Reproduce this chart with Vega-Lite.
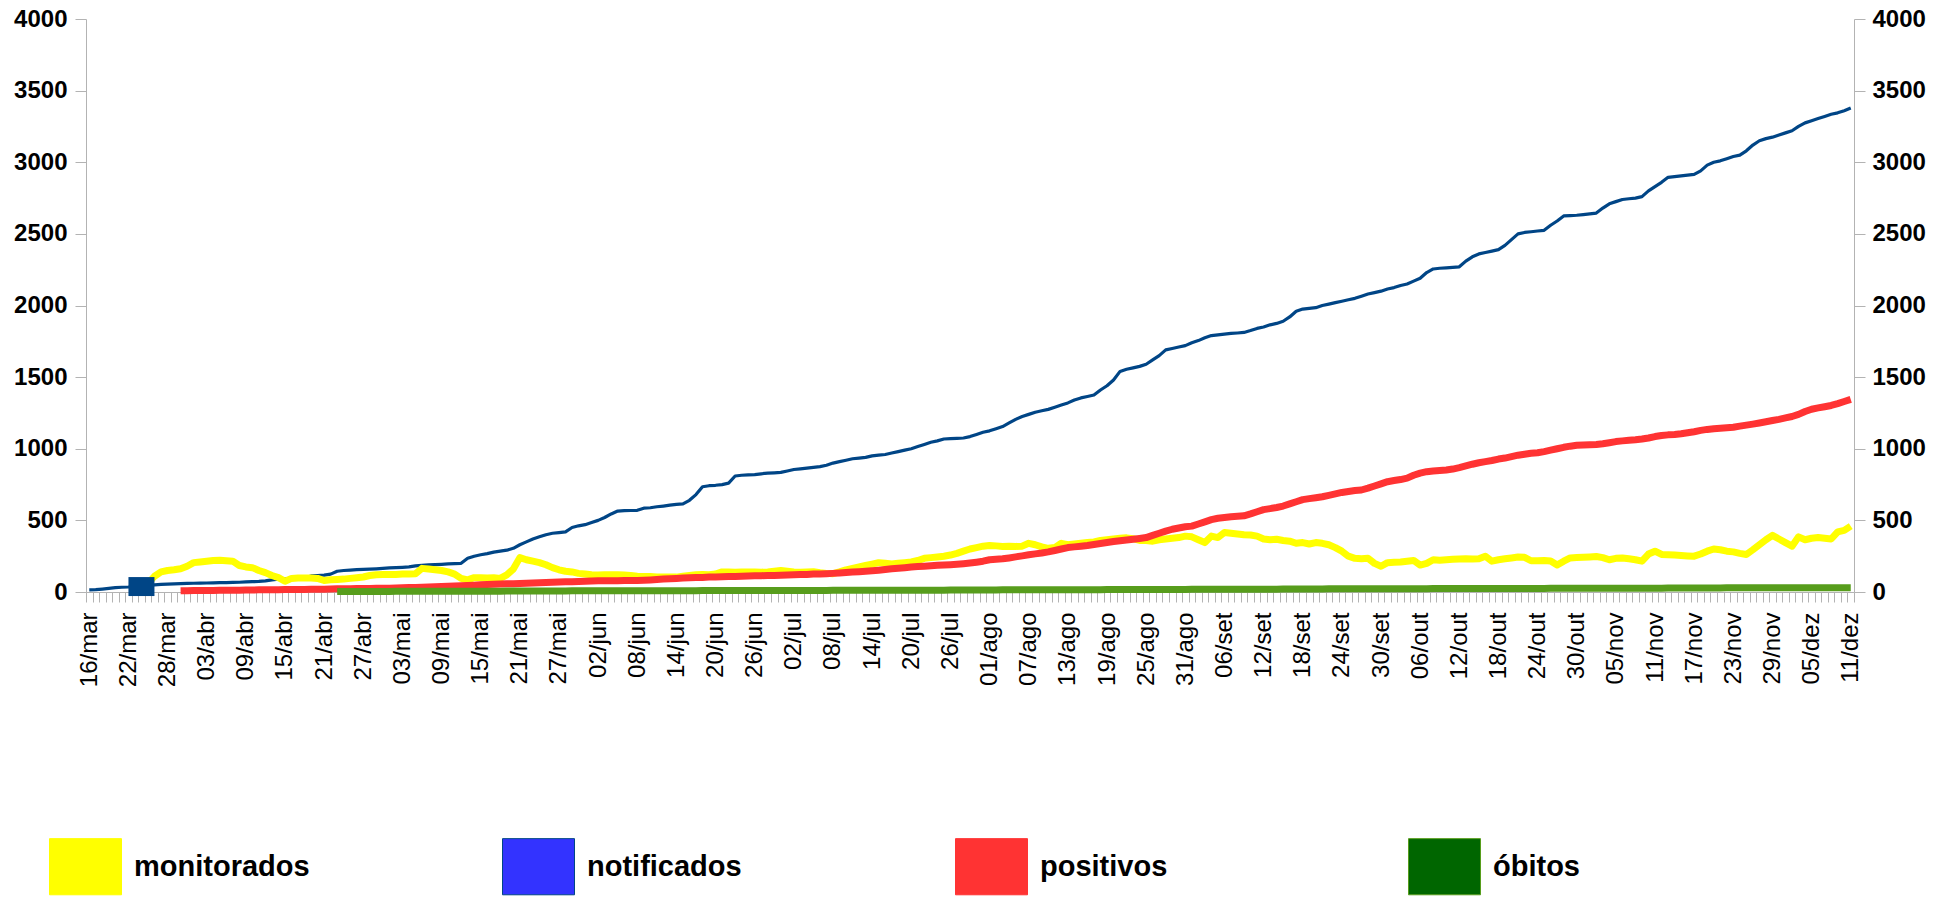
{
  "$schema": "https://vega.github.io/schema/vega-lite/v6.json",
  "width": 1768,
  "height": 573,
  "autosize": {"type": "none"},
  "padding": {"left": 86, "top": 19, "right": 97, "bottom": 308},
  "background": "white",
  "config": {"view": {"stroke": null}, "font": "Liberation Sans"},
  "data": {"values": [
{"d":"16/mar","n":15},{"d":"17/mar","n":16},{"d":"18/mar","n":20},{"d":"19/mar","n":25},{"d":"20/mar","n":30},{"d":"21/mar","n":33},{"d":"22/mar","n":35},{"d":"23/mar","n":40},{"d":"24/mar","n":45,"sq":38},
{"d":"25/mar","n":48,"m":60},{"d":"26/mar","n":50,"m":110},{"d":"27/mar","n":53,"m":140},{"d":"28/mar","n":55,"m":150},{"d":"29/mar","n":57,"m":155},
{"d":"30/mar","n":58,"m":162,"p":8},{"d":"31/mar","n":60,"m":180,"p":9},
{"d":"01/abr","n":61,"m":205,"p":10},{"d":"02/abr","n":62,"m":210,"p":10},{"d":"03/abr","n":63,"m":215,"p":11},{"d":"04/abr","n":64,"m":220,"p":11},{"d":"05/abr","n":65,"m":222,"p":12},{"d":"06/abr","n":66,"m":218,"p":12},{"d":"07/abr","n":67,"m":215,"p":13},{"d":"08/abr","n":68,"m":185,"p":13},{"d":"09/abr","n":70,"m":175,"p":14},{"d":"10/abr","n":72,"m":170,"p":14},
{"d":"11/abr","n":74,"m":150,"p":15},{"d":"12/abr","n":78,"m":135,"p":15},{"d":"13/abr","n":85,"m":115,"p":16},{"d":"14/abr","n":90,"m":100,"p":16},{"d":"15/abr","n":92,"m":75,"p":17},{"d":"16/abr","n":94,"m":95,"p":17},{"d":"17/abr","n":98,"m":98,"p":18},{"d":"18/abr","n":100,"m":98,"p":18},{"d":"19/abr","n":112,"m":98,"p":19},{"d":"20/abr","n":115,"m":95,"p":19},
{"d":"21/abr","n":118,"m":80,"p":20},{"d":"22/abr","n":125,"m":85,"p":21},{"d":"23/abr","n":145,"m":88,"p":22,"o":3},{"d":"24/abr","n":150,"m":90,"p":22,"o":3},{"d":"25/abr","n":153,"m":95,"p":23,"o":3},{"d":"26/abr","n":156,"m":100,"p":24,"o":3},{"d":"27/abr","n":158,"m":105,"p":25,"o":4},{"d":"28/abr","n":160,"m":115,"p":25,"o":4},{"d":"29/abr","n":162,"m":120,"p":26,"o":4},{"d":"30/abr","n":165,"m":122,"p":27,"o":4},
{"d":"01/mai","n":168,"m":122,"p":27,"o":4},{"d":"02/mai","n":170,"m":123,"p":28,"o":5},{"d":"03/mai","n":172,"m":125,"p":30,"o":5},{"d":"04/mai","n":175,"m":125,"p":31,"o":5},{"d":"05/mai","n":182,"m":128,"p":32,"o":5},{"d":"06/mai","n":186,"m":165,"p":33,"o":5},{"d":"07/mai","n":189,"m":160,"p":35,"o":5},{"d":"08/mai","n":191,"m":155,"p":36,"o":5},{"d":"09/mai","n":193,"m":150,"p":38,"o":5},{"d":"10/mai","n":196,"m":140,"p":40,"o":6},
{"d":"11/mai","n":198,"m":125,"p":42,"o":6},{"d":"12/mai","n":200,"m":95,"p":44,"o":6},{"d":"13/mai","n":235,"m":85,"p":46,"o":6},{"d":"14/mai","n":250,"m":100,"p":48,"o":6},{"d":"15/mai","n":260,"m":100,"p":50,"o":6},{"d":"16/mai","n":268,"m":98,"p":52,"o":6},{"d":"17/mai","n":278,"m":100,"p":54,"o":6},{"d":"18/mai","n":285,"m":95,"p":55,"o":6},{"d":"19/mai","n":292,"m":120,"p":57,"o":7},{"d":"20/mai","n":305,"m":160,"p":58,"o":7},
{"d":"21/mai","n":330,"m":240,"p":60,"o":7},{"d":"22/mai","n":350,"m":225,"p":61,"o":7},{"d":"23/mai","n":370,"m":215,"p":63,"o":7},{"d":"24/mai","n":385,"m":205,"p":65,"o":7},{"d":"25/mai","n":400,"m":190,"p":66,"o":7},{"d":"26/mai","n":410,"m":170,"p":68,"o":7},{"d":"27/mai","n":415,"m":155,"p":70,"o":7},{"d":"28/mai","n":420,"m":145,"p":71,"o":7},{"d":"29/mai","n":450,"m":140,"p":72,"o":8},{"d":"30/mai","n":462,"m":130,"p":73,"o":8},{"d":"31/mai","n":470,"m":125,"p":75,"o":8},
{"d":"01/jun","n":485,"m":120,"p":76,"o":8},{"d":"02/jun","n":500,"m":118,"p":78,"o":8},{"d":"03/jun","n":520,"m":120,"p":78,"o":8},{"d":"04/jun","n":545,"m":120,"p":79,"o":8},{"d":"05/jun","n":565,"m":120,"p":79,"o":8},{"d":"06/jun","n":568,"m":118,"p":80,"o":8},{"d":"07/jun","n":569,"m":115,"p":80,"o":8},{"d":"08/jun","n":570,"m":110,"p":80,"o":9},{"d":"09/jun","n":585,"m":108,"p":82,"o":9},{"d":"10/jun","n":588,"m":108,"p":84,"o":9},
{"d":"11/jun","n":595,"m":105,"p":87,"o":9},{"d":"12/jun","n":600,"m":105,"p":90,"o":9},{"d":"13/jun","n":606,"m":104,"p":92,"o":9},{"d":"14/jun","n":612,"m":104,"p":95,"o":9},{"d":"15/jun","n":615,"m":110,"p":97,"o":9},{"d":"16/jun","n":640,"m":115,"p":99,"o":9},{"d":"17/jun","n":680,"m":120,"p":101,"o":9},{"d":"18/jun","n":735,"m":122,"p":102,"o":10},{"d":"19/jun","n":742,"m":120,"p":104,"o":10},{"d":"20/jun","n":745,"m":125,"p":105,"o":10},
{"d":"21/jun","n":750,"m":140,"p":107,"o":10},{"d":"22/jun","n":760,"m":140,"p":108,"o":10},{"d":"23/jun","n":810,"m":138,"p":109,"o":10},{"d":"24/jun","n":815,"m":140,"p":110,"o":10},{"d":"25/jun","n":818,"m":140,"p":111,"o":10},{"d":"26/jun","n":820,"m":140,"p":113,"o":10},{"d":"27/jun","n":825,"m":138,"p":114,"o":10},{"d":"28/jun","n":830,"m":140,"p":115,"o":11},{"d":"29/jun","n":832,"m":145,"p":116,"o":11},{"d":"30/jun","n":835,"m":150,"p":117,"o":11},
{"d":"01/jul","n":845,"m":145,"p":119,"o":11},{"d":"02/jul","n":855,"m":140,"p":120,"o":11},{"d":"03/jul","n":860,"m":138,"p":122,"o":11},{"d":"04/jul","n":865,"m":140,"p":123,"o":11},{"d":"05/jul","n":870,"m":142,"p":125,"o":11},{"d":"06/jul","n":875,"m":135,"p":126,"o":11},{"d":"07/jul","n":885,"m":130,"p":128,"o":11},{"d":"08/jul","n":900,"m":128,"p":130,"o":12},{"d":"09/jul","n":910,"m":140,"p":133,"o":12},{"d":"10/jul","n":920,"m":155,"p":136,"o":12},
{"d":"11/jul","n":930,"m":165,"p":139,"o":12},{"d":"12/jul","n":935,"m":175,"p":142,"o":12},{"d":"13/jul","n":940,"m":185,"p":145,"o":12},{"d":"14/jul","n":950,"m":195,"p":148,"o":12},{"d":"15/jul","n":955,"m":205,"p":152,"o":12},{"d":"16/jul","n":960,"m":200,"p":157,"o":12},{"d":"17/jul","n":970,"m":195,"p":162,"o":13},{"d":"18/jul","n":980,"m":200,"p":166,"o":13},{"d":"19/jul","n":990,"m":205,"p":170,"o":13},{"d":"20/jul","n":1000,"m":210,"p":175,"o":13},
{"d":"21/jul","n":1015,"m":220,"p":178,"o":13},{"d":"22/jul","n":1030,"m":235,"p":180,"o":13},{"d":"23/jul","n":1045,"m":240,"p":183,"o":13},{"d":"24/jul","n":1055,"m":245,"p":186,"o":13},{"d":"25/jul","n":1068,"m":250,"p":188,"o":13},{"d":"26/jul","n":1070,"m":258,"p":190,"o":14},{"d":"27/jul","n":1072,"m":270,"p":193,"o":14},{"d":"28/jul","n":1075,"m":285,"p":197,"o":14},{"d":"29/jul","n":1085,"m":300,"p":202,"o":14},{"d":"30/jul","n":1100,"m":310,"p":208,"o":14},{"d":"31/jul","n":1115,"m":320,"p":215,"o":14},
{"d":"01/ago","n":1125,"m":325,"p":225,"o":14},{"d":"02/ago","n":1140,"m":322,"p":228,"o":14},{"d":"03/ago","n":1155,"m":318,"p":232,"o":15},{"d":"04/ago","n":1180,"m":320,"p":238,"o":15},{"d":"05/ago","n":1205,"m":318,"p":245,"o":15},{"d":"06/ago","n":1225,"m":320,"p":252,"o":15},{"d":"07/ago","n":1240,"m":340,"p":260,"o":15},{"d":"08/ago","n":1255,"m":330,"p":266,"o":15},{"d":"09/ago","n":1265,"m":315,"p":272,"o":15},{"d":"10/ago","n":1275,"m":305,"p":280,"o":15},
{"d":"11/ago","n":1290,"m":310,"p":290,"o":16},{"d":"12/ago","n":1305,"m":340,"p":300,"o":16},{"d":"13/ago","n":1320,"m":330,"p":310,"o":16},{"d":"14/ago","n":1340,"m":335,"p":315,"o":16},{"d":"15/ago","n":1355,"m":340,"p":320,"o":16},{"d":"16/ago","n":1365,"m":345,"p":325,"o":16},{"d":"17/ago","n":1375,"m":350,"p":332,"o":16},{"d":"18/ago","n":1410,"m":360,"p":338,"o":16},{"d":"19/ago","n":1440,"m":365,"p":345,"o":17},{"d":"20/ago","n":1480,"m":370,"p":352,"o":17},
{"d":"21/ago","n":1540,"m":375,"p":358,"o":17},{"d":"22/ago","n":1555,"m":378,"p":363,"o":17},{"d":"23/ago","n":1565,"m":372,"p":368,"o":17},{"d":"24/ago","n":1575,"m":360,"p":374,"o":17},{"d":"25/ago","n":1590,"m":360,"p":380,"o":17},{"d":"26/ago","n":1620,"m":355,"p":395,"o":18},{"d":"27/ago","n":1650,"m":365,"p":410,"o":18},{"d":"28/ago","n":1690,"m":370,"p":425,"o":18},{"d":"29/ago","n":1700,"m":375,"p":438,"o":18},{"d":"30/ago","n":1710,"m":380,"p":447,"o":18},{"d":"31/ago","n":1720,"m":390,"p":455,"o":18},
{"d":"01/set","n":1740,"m":385,"p":460,"o":19},{"d":"02/set","n":1755,"m":365,"p":475,"o":19},{"d":"03/set","n":1775,"m":345,"p":490,"o":19},{"d":"04/set","n":1790,"m":390,"p":505,"o":19},{"d":"05/set","n":1795,"m":380,"p":515,"o":19},{"d":"06/set","n":1800,"m":415,"p":520,"o":19},{"d":"07/set","n":1805,"m":410,"p":525,"o":19},{"d":"08/set","n":1808,"m":405,"p":528,"o":20},{"d":"09/set","n":1812,"m":400,"p":532,"o":20},{"d":"10/set","n":1825,"m":398,"p":545,"o":20},
{"d":"11/set","n":1840,"m":390,"p":560,"o":20},{"d":"12/set","n":1850,"m":370,"p":575,"o":20},{"d":"13/set","n":1865,"m":365,"p":582,"o":20},{"d":"14/set","n":1875,"m":368,"p":590,"o":20},{"d":"15/set","n":1890,"m":360,"p":600,"o":21},{"d":"16/set","n":1920,"m":355,"p":615,"o":21},{"d":"17/set","n":1960,"m":340,"p":630,"o":21},{"d":"18/set","n":1975,"m":345,"p":645,"o":21},{"d":"19/set","n":1980,"m":335,"p":652,"o":21},{"d":"20/set","n":1985,"m":345,"p":658,"o":21},
{"d":"21/set","n":2000,"m":340,"p":665,"o":21},{"d":"22/set","n":2010,"m":330,"p":675,"o":22},{"d":"23/set","n":2020,"m":310,"p":685,"o":22},{"d":"24/set","n":2030,"m":285,"p":695,"o":22},{"d":"25/set","n":2040,"m":250,"p":702,"o":22},{"d":"26/set","n":2050,"m":235,"p":708,"o":22},{"d":"27/set","n":2065,"m":232,"p":712,"o":22},{"d":"28/set","n":2080,"m":235,"p":725,"o":22},{"d":"29/set","n":2090,"m":200,"p":740,"o":22},{"d":"30/set","n":2100,"m":180,"p":755,"o":23},
{"d":"01/out","n":2115,"m":205,"p":770,"o":23},{"d":"02/out","n":2125,"m":208,"p":778,"o":23},{"d":"03/out","n":2140,"m":210,"p":785,"o":23},{"d":"04/out","n":2150,"m":215,"p":795,"o":23},{"d":"05/out","n":2170,"m":220,"p":815,"o":23},{"d":"06/out","n":2190,"m":188,"p":830,"o":23},{"d":"07/out","n":2230,"m":200,"p":840,"o":23},{"d":"08/out","n":2255,"m":225,"p":845,"o":24},{"d":"09/out","n":2260,"m":222,"p":848,"o":24},{"d":"10/out","n":2263,"m":225,"p":852,"o":24},
{"d":"11/out","n":2266,"m":228,"p":858,"o":24},{"d":"12/out","n":2270,"m":230,"p":868,"o":24},{"d":"13/out","n":2310,"m":232,"p":880,"o":24},{"d":"14/out","n":2340,"m":230,"p":892,"o":24},{"d":"15/out","n":2360,"m":232,"p":902,"o":24},{"d":"16/out","n":2370,"m":250,"p":910,"o":24},{"d":"17/out","n":2380,"m":215,"p":918,"o":25},{"d":"18/out","n":2390,"m":225,"p":928,"o":25},{"d":"19/out","n":2420,"m":232,"p":935,"o":25},{"d":"20/out","n":2460,"m":238,"p":945,"o":25},
{"d":"21/out","n":2500,"m":244,"p":955,"o":25},{"d":"22/out","n":2510,"m":242,"p":962,"o":25},{"d":"23/out","n":2515,"m":218,"p":968,"o":25},{"d":"24/out","n":2520,"m":218,"p":972,"o":25},{"d":"25/out","n":2525,"m":220,"p":980,"o":25},{"d":"26/out","n":2560,"m":216,"p":990,"o":26},{"d":"27/out","n":2590,"m":188,"p":1000,"o":26},{"d":"28/out","n":2625,"m":215,"p":1010,"o":26},{"d":"29/out","n":2628,"m":238,"p":1018,"o":26},{"d":"30/out","n":2630,"m":240,"p":1024,"o":26},{"d":"31/out","n":2635,"m":242,"p":1026,"o":26},
{"d":"01/nov","n":2640,"m":245,"p":1028,"o":26},{"d":"02/nov","n":2645,"m":248,"p":1030,"o":26},{"d":"03/nov","n":2680,"m":240,"p":1035,"o":26},{"d":"04/nov","n":2710,"m":225,"p":1042,"o":27},{"d":"05/nov","n":2725,"m":235,"p":1050,"o":27},{"d":"06/nov","n":2740,"m":238,"p":1055,"o":27},{"d":"07/nov","n":2745,"m":232,"p":1060,"o":27},{"d":"08/nov","n":2750,"m":225,"p":1063,"o":27},{"d":"09/nov","n":2760,"m":215,"p":1068,"o":27},{"d":"10/nov","n":2800,"m":265,"p":1075,"o":27},
{"d":"11/nov","n":2830,"m":285,"p":1085,"o":27},{"d":"12/nov","n":2860,"m":262,"p":1092,"o":27},{"d":"13/nov","n":2895,"m":260,"p":1097,"o":28},{"d":"14/nov","n":2900,"m":258,"p":1100,"o":28},{"d":"15/nov","n":2905,"m":255,"p":1105,"o":28},{"d":"16/nov","n":2910,"m":252,"p":1112,"o":28},{"d":"17/nov","n":2915,"m":250,"p":1119,"o":28},{"d":"18/nov","n":2940,"m":265,"p":1128,"o":28},{"d":"19/nov","n":2980,"m":285,"p":1135,"o":28},{"d":"20/nov","n":3000,"m":300,"p":1140,"o":28},
{"d":"21/nov","n":3010,"m":295,"p":1143,"o":28},{"d":"22/nov","n":3025,"m":285,"p":1146,"o":29},{"d":"23/nov","n":3040,"m":280,"p":1150,"o":29},{"d":"24/nov","n":3050,"m":270,"p":1158,"o":29},{"d":"25/nov","n":3080,"m":262,"p":1165,"o":29},{"d":"26/nov","n":3120,"m":295,"p":1172,"o":29},{"d":"27/nov","n":3150,"m":330,"p":1180,"o":29},{"d":"28/nov","n":3165,"m":365,"p":1188,"o":29},{"d":"29/nov","n":3175,"m":395,"p":1197,"o":29},{"d":"30/nov","n":3190,"m":370,"p":1205,"o":29},
{"d":"01/dez","n":3205,"m":345,"p":1215,"o":29},{"d":"02/dez","n":3220,"m":320,"p":1225,"o":30},{"d":"03/dez","n":3250,"m":385,"p":1240,"o":30},{"d":"04/dez","n":3275,"m":365,"p":1260,"o":30},{"d":"05/dez","n":3290,"m":375,"p":1276,"o":30},{"d":"06/dez","n":3305,"m":380,"p":1285,"o":30},{"d":"07/dez","n":3320,"m":375,"p":1293,"o":30},{"d":"08/dez","n":3335,"m":370,"p":1302,"o":30},{"d":"09/dez","n":3345,"m":420,"p":1315,"o":30},{"d":"10/dez","n":3360,"m":430,"p":1330,"o":30},{"d":"11/dez","n":3378,"m":460,"p":1345,"o":30}
  ]},
  "encoding": {
    "x": {
      "field": "d", "type": "ordinal", "sort": null,
      "scale": {"type": "band", "paddingInner": 0, "paddingOuter": 0},
      "axis": {
        "title": null, "tickBand": "extent", "labelAngle": -90, "labelOverlap": false,
        "labelFont": "Liberation Sans", "labelFontSize": 24, "labelColor": "#000000",
        "labelPadding": 10, "tickSize": 10, "tickColor": "#b3b3b3", "domainColor": "#b3b3b3",
        "labelExpr": "indexof(['16/mar','22/mar','28/mar','03/abr','09/abr','15/abr','21/abr','27/abr','03/mai','09/mai','15/mai','21/mai','27/mai','02/jun','08/jun','14/jun','20/jun','26/jun','02/jul','08/jul','14/jul','20/jul','26/jul','01/ago','07/ago','13/ago','19/ago','25/ago','31/ago','06/set','12/set','18/set','24/set','30/set','06/out','12/out','18/out','24/out','30/out','05/nov','11/nov','17/nov','23/nov','29/nov','05/dez','11/dez'], datum.value) >= 0 ? datum.label : ''"
      }
    }
  },
  "layer": [
    {
      "transform": [{"fold": ["n"], "as": ["s", "v"]}],
      "mark": {"type": "line", "strokeJoin": "round", "invalid": "filter", "strokeWidth": 3.2},
      "encoding": {
        "y": {
          "field": "v", "type": "quantitative",
          "scale": {"domain": [0, 4000], "nice": false},
          "axis": {
            "title": null, "orient": "left", "values": [0,500,1000,1500,2000,2500,3000,3500,4000], "format": "d",
            "grid": false, "labelFont": "Liberation Sans", "labelFontSize": 24, "labelFontWeight": "bold",
            "labelColor": "#000000", "tickSize": 11, "labelPadding": 8, "tickColor": "#b3b3b3", "domainColor": "#b3b3b3"
          }
        },
        "color": {
          "field": "s", "type": "nominal",
          "scale": {"domain": ["m", "n", "p", "o"], "range": ["#ffff00", "#004586", "#ff3333", "#579d1c"]}
        }
      }
    },
    {
      "transform": [{"fold": ["m", "p", "o"], "as": ["s", "v"]}],
      "mark": {"type": "line", "strokeJoin": "round", "invalid": "filter", "strokeWidth": 7},
      "encoding": {
        "y": {"field": "v", "type": "quantitative", "scale": {"domain": [0, 4000], "nice": false}, "axis": null},
        "color": {
          "field": "s", "type": "nominal",
          "scale": {"domain": ["m", "n", "p", "o"], "range": ["#ffff00", "#004586", "#ff3333", "#579d1c"]},
          "legend": {
            "title": null, "orient": "none", "legendX": -37, "legendY": 811,
            "direction": "horizontal", "columns": 4, "gridAlign": "all", "columnPadding": 190,
            "padding": 0, "symbolType": "M-1,-0.78H1V0.78H-1Z", "symbolSize": 5184,
            "symbolStrokeWidth": 1,
            "labelOffset": 12, "labelLimit": 400, "labelFont": "Liberation Sans",
            "labelFontSize": 29, "labelFontWeight": "bold", "labelColor": "#000000",
            "labelExpr": "datum.value == 'm' ? 'monitorados' : datum.value == 'n' ? 'notificados' : datum.value == 'p' ? 'positivos' : 'óbitos'",
            "encode": {
              "symbols": {
                "update": {
                  "fill": [
                    {"test": "datum.value == 'm'", "value": "#ffff00"},
                    {"test": "datum.value == 'n'", "value": "#3333ff"},
                    {"test": "datum.value == 'p'", "value": "#ff3333"},
                    {"value": "#006600"}
                  ],
                  "stroke": {"value": "#3a66a8"},
                  "strokeWidth": {"value": 1},
                  "opacity": {"value": 1}
                }
              }
            }
          }
        }
      }
    },
    {
      "mark": {"type": "point", "shape": "M-1,-0.73H1V0.73H-1Z", "filled": true, "color": "#004586", "opacity": 1, "size": 676},
      "encoding": {
        "y": {
          "field": "sq", "type": "quantitative",
          "scale": {"domain": [0, 4000], "nice": false},
          "axis": {
            "title": null, "orient": "right", "values": [0,500,1000,1500,2000,2500,3000,3500,4000], "format": "d",
            "grid": false, "labelFont": "Liberation Sans", "labelFontSize": 24, "labelFontWeight": "bold",
            "labelColor": "#000000", "tickSize": 11, "labelPadding": 7, "tickColor": "#b3b3b3", "domainColor": "#b3b3b3"
          }
        }
      }
    }
  ],
  "resolve": {"scale": {"y": "independent"}, "axis": {"y": "independent"}}
}
